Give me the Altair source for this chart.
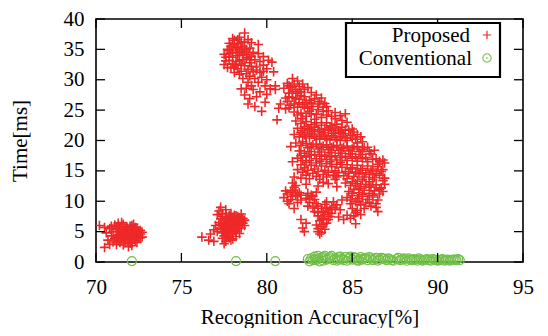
import altair as alt
import pandas as pd

# ---------------- data ----------------
cluster_a = [(70.2,6.0),(70.5,5.7),(70.8,5.5),(70.6,4.8),(70.9,4.3),(70.7,3.6),(70.5,2.4),(70.8,2.9),
             (71.0,3.3),(71.2,2.9),(71.1,3.8),(71.0,5.0),(71.2,5.8),(71.3,6.4),(71.4,5.3),(71.3,4.5),
             (71.5,3.9),(71.4,3.2),(71.6,2.8),(71.6,4.8),(71.7,5.6),(71.6,6.2),(71.8,4.3),(71.9,3.6),
             (71.9,2.5),(71.8,5.0),(72.0,5.9),(72.0,4.6),(72.0,3.1),(72.1,3.9),(72.1,5.3),(72.2,4.2),
             (72.3,4.9),(72.3,3.5),(72.4,5.6),(72.4,4.4),(72.5,3.9),(72.5,5.1),(72.6,4.6),(72.7,4.9),
             (72.7,4.1),(72.2,6.2),(71.5,6.5),(71.2,4.1),(71.7,3.2),(72.1,2.7),(71.3,3.5),(71.9,5.4),
             (72.4,3.2),(70.9,5.9),(71.1,6.1),
             (71.3,5.0),(71.5,4.5),(71.7,4.0),(71.9,4.9),(72.1,4.4),(72.3,5.3),(72.5,4.3),(71.4,5.7),
             (71.6,5.2),(71.8,4.7),(72.0,5.1),(72.2,4.7),(72.4,4.8),(72.6,5.2),(71.5,3.5),(71.7,3.7),
             (71.9,3.3),(72.1,3.5),(72.3,4.0),(72.5,4.5),(71.3,4.1),(71.6,4.3),(71.8,5.8),(72.0,4.2),
             (72.2,3.8),(72.6,4.0),(71.9,4.4),(71.2,5.4),(72.3,5.7),(72.1,6.0)]

cluster_b = [(76.2,4.1),(76.6,3.6),(76.7,4.6),(76.9,3.4),(76.9,5.3),(77.0,6.0),(77.1,7.8),(77.2,8.4),
             (77.3,9.0),(77.4,8.0),(77.3,7.1),(77.2,6.5),(77.3,5.6),(77.4,4.8),(77.4,3.9),(77.5,3.0),
             (77.5,6.3),(77.6,7.4),(77.6,8.6),(77.7,5.2),(77.7,4.2),(77.8,6.1),(77.8,7.0),(77.9,3.6),
             (77.9,5.5),(78.0,6.6),(78.0,4.6),(78.1,7.7),(78.1,5.9),(78.2,6.9),(78.2,5.0),(78.3,7.5),
             (78.3,6.2),(78.4,4.7),(78.4,6.8),(78.5,7.9),(78.5,5.6),(78.6,6.4),(78.6,7.2),(78.7,6.0),
             (78.7,6.9),(77.5,5.8),(77.9,8.0),(78.0,3.8),(77.6,3.4),(77.1,5.0),(78.2,4.2),
             (77.4,5.4),(77.6,6.0),(77.8,5.7),(78.0,6.1),(78.2,6.4),(78.4,6.1),(78.6,6.8),(77.5,6.8),
             (77.7,6.5),(77.9,6.8),(78.1,6.5),(78.3,6.8),(78.5,6.6),(77.3,6.2),(77.5,5.0),(77.7,4.7),
             (77.9,4.9),(78.1,5.2),(78.3,5.5),(77.4,7.5),(77.6,7.9),(77.8,7.6),(78.4,7.3),(77.6,4.5),
             (77.8,4.0),(77.5,4.3),(78.0,7.2),(78.2,7.6),(77.9,7.3)]

cluster_c = [(78.7,37.7),(78.4,37.0),(78.1,36.5),(77.8,36.0),(78.5,36.2),(78.9,36.6),(78.6,35.5),(78.2,35.3),
             (77.7,35.0),(77.5,34.2),(77.9,34.4),(78.3,34.0),(78.7,34.6),(79.0,35.2),(79.2,34.5),(79.1,33.8),
             (78.6,33.3),(78.2,33.0),(77.8,33.2),(77.5,32.5),(77.9,32.0),(78.3,31.8),(78.7,32.3),(79.0,32.8),
             (79.3,33.3),(79.6,33.0),(79.4,32.1),(79.8,32.4),(80.1,33.2),(80.3,32.9),(80.0,31.8),(79.6,31.2),
             (79.2,31.3),(78.8,31.0),(78.4,30.9),(78.1,31.2),(78.6,30.2),(78.9,29.6),(79.3,30.2),(79.7,30.4),
             (80.0,30.0),(80.4,31.3),(80.5,29.0),(80.2,28.5),(79.9,29.0),(80.0,27.6),(79.6,28.0),(79.2,28.4),
             (78.8,28.6),(78.5,28.5),(78.7,27.5),(79.0,26.9),(79.4,27.2),(78.9,26.0),(79.3,25.6),(79.7,24.8),
             (79.9,26.3),(80.5,28.4),(80.6,23.4),(80.7,25.3),(79.5,35.8),(79.1,36.1),(78.3,35.9),(77.6,33.7),
             (78.0,33.7),(79.5,34.3),(79.8,33.8),
             (77.9,35.5),(78.1,35.8),(78.3,35.3),(78.5,35.0),(78.8,35.0),(77.8,34.8),(78.0,34.9),(78.2,34.5),
             (78.4,34.5),(78.6,34.1),(78.9,34.2),(77.6,33.1),(77.8,33.8),(78.0,32.6),(78.2,32.4),(78.4,33.2),
             (78.5,32.6),(78.8,33.6),(77.7,32.0),(78.1,32.1),(78.9,31.7),(79.1,32.2),(78.5,31.4),(78.0,36.8),
             (78.3,36.6),(78.7,36.2),(79.0,33.3),(79.4,31.6),(79.0,30.6),(79.5,29.6),(79.1,29.0),(79.8,31.4)]

cluster_d_top = [(81.2,29.4),(81.5,30.2),(81.8,29.8),(82.1,29.3),(81.4,28.8),(81.0,28.6),(81.7,28.4),(82.0,28.0),
                 (82.4,28.7),(82.6,27.9),(81.3,27.8),(81.1,27.0),
                 (80.8,26.0),(81.2,26.4),(81.5,27.1),(81.9,26.8),(82.2,27.2),(82.5,26.6),(82.8,26.9),(83.1,26.4),
                 (83.4,26.1),(81.4,25.8),(81.8,25.5),(82.1,25.9),(82.4,25.3),(82.7,25.6),(83.0,25.1),(83.3,25.5),
                 (83.6,24.9),(81.1,25.2),(81.6,24.7),(82.0,24.5),(82.9,24.3),(82.3,24.0),(83.2,23.8),(83.5,24.2),
                 (84.0,24.6),(84.3,24.1),(84.6,24.4),(84.0,23.6),(84.4,23.3),(84.7,23.0),(83.8,24.0),
                 (81.3,29.0),(81.6,29.3),(81.9,28.9),(81.5,28.1),(81.8,27.8),(82.2,28.4),(81.3,27.2),(81.7,26.9),
                 (82.0,27.4),(82.3,26.3),(81.6,26.0),(81.9,26.2),(82.6,26.1),(81.3,25.4),(82.2,25.5),(82.5,24.8),
                 (81.8,24.2),(82.6,24.4),(82.1,23.6),(82.8,23.5),(83.3,24.8),(83.0,26.0),(83.2,27.0),(82.9,27.5),
                 (83.5,25.6)]

cluster_d_mid = [(81.7,23.2),(82.0,22.8),(82.3,23.1),(82.6,22.6),(82.9,22.9),(83.2,22.5),(83.5,22.9),(83.8,22.4),
                 (84.1,22.7),(84.4,22.2),(81.8,22.0),(82.1,21.6),(82.4,22.0),(82.7,21.5),(83.0,21.8),(83.3,21.3),
                 (83.6,21.7),(83.9,21.2),(84.2,21.6),(84.5,21.1),(84.8,21.7),(85.1,21.4),(81.6,21.0),(81.9,20.6),
                 (82.2,20.9),(82.5,20.4),(82.8,20.7),(83.1,20.2),(83.4,20.6),(83.7,20.1),(84.0,20.5),(84.3,20.0),
                 (84.6,20.4),(84.9,20.8),(85.2,20.2),(85.5,20.6),(85.0,21.9),(85.3,21.0),(85.6,19.8),
                 (81.7,19.6),(82.0,19.2),(82.3,19.5),(82.6,19.0),(82.9,19.4),(83.2,18.9),(83.5,19.3),(83.8,18.8),
                 (84.1,19.2),(84.4,18.7),(84.7,19.1),(85.0,18.6),(85.3,19.0),(85.6,18.5),(85.9,18.9),(81.9,18.3),
                 (82.2,17.9),(82.5,18.2),(82.8,17.7),(83.1,18.1),(83.4,17.6),(83.7,18.0),(84.0,17.5),(84.3,17.9),
                 (84.6,17.4),(84.9,17.8),(85.2,17.3),(85.5,17.7),(85.8,17.2),(86.1,17.8),(86.3,18.4),(86.4,17.0),
                 (81.8,17.1),(82.1,16.7),(81.4,19.0),(81.5,16.5),
                 (82.2,22.3),(82.5,21.8),(82.8,22.2),(83.1,21.5),(83.4,21.9),(83.7,22.1),(84.0,21.9),(84.3,21.3),
                 (84.6,21.8),(82.0,21.3),(82.3,20.7),(82.6,21.1),(82.9,20.4),(83.2,20.9),(83.5,20.3),(83.8,20.8),
                 (84.1,20.2),(84.4,20.7),(84.7,20.0),(85.0,20.4),(85.3,19.6),(82.1,19.8),(82.4,18.8),(82.7,19.3),
                 (83.0,18.6),(83.3,19.1),(83.6,18.5),(83.9,19.0),(84.2,18.4),(84.5,18.9),(84.8,18.3),(85.1,18.9),
                 (85.4,18.2),(85.7,18.8),(86.0,18.2),(82.0,17.5),(82.3,17.3),(82.6,17.6),(82.9,17.0),(83.2,17.4),
                 (83.5,16.9),(83.8,17.3),(84.1,16.8),(84.4,17.2),(84.7,16.7),(85.0,17.1),(85.3,16.6),(85.6,17.0),
                 (85.9,16.5),(86.2,16.9),(86.5,16.1),(86.8,16.8)]

cluster_d_low = [(82.0,16.0),(82.3,16.4),(82.6,15.9),(82.9,16.3),(83.2,15.8),(83.5,16.2),(83.8,15.7),(84.1,16.1),
                 (84.4,15.6),(84.7,16.0),(85.0,15.5),(85.3,15.9),(85.6,15.4),(85.9,15.8),(86.2,15.3),(86.5,15.7),
                 (86.8,15.2),(86.9,16.3),(86.6,16.6),(81.8,15.2),(82.1,14.8),(82.4,15.1),(82.7,14.6),(83.0,14.9),
                 (83.3,14.4),(83.6,14.8),(83.9,14.3),(84.2,14.7),(84.5,14.2),(84.8,14.6),(85.1,14.1),(85.4,14.5),
                 (85.7,14.0),(86.0,14.4),(86.3,13.9),(86.6,14.3),(86.9,13.8),(82.0,13.8),(82.5,13.7),(83.1,13.6),
                 (84.0,13.6),(85.3,13.3),(86.0,13.2),(81.6,14.0),(81.5,13.0),(81.7,12.6),
                 (82.3,12.8),(83.0,12.5),(83.6,12.9),(84.1,12.4),(83.3,13.1),
                 (84.6,13.0),(84.9,12.6),(85.2,12.9),(85.5,12.4),(85.8,12.8),(86.1,12.3),(86.4,12.7),(86.7,12.2),
                 (86.9,12.8),(84.8,11.6),(85.1,11.9),(85.4,11.4),(85.7,11.8),(86.0,11.3),(86.3,11.7),(86.6,11.2),
                 (86.8,11.6),(84.7,10.6),(85.0,10.9),(85.3,10.4),(85.6,10.8),(85.9,10.3),(86.2,10.7),(86.5,10.2),
                 (84.9,9.6),(85.2,9.9),(85.5,9.4),(85.8,9.7),(86.1,9.2),(86.4,9.0),(86.5,8.3),(85.0,8.8),
                 (85.3,8.5),(84.7,7.7),(85.1,7.6),(85.2,6.3),(84.5,7.0),(84.2,7.4),
                 (82.2,15.5),(82.5,16.7),(82.8,15.3),(83.1,16.6),(83.4,15.1),(83.7,16.5),(84.0,15.0),(84.3,16.4),
                 (84.6,14.9),(84.9,15.3),(85.2,14.8),(85.5,15.1),(85.8,14.7),(86.1,15.0),(86.4,14.6),(86.7,14.9),
                 (82.3,14.3),(82.9,14.1),(83.5,14.0),(84.1,14.0),(84.7,13.7),(85.6,13.6),(86.2,13.6),(86.8,13.4),
                 (85.0,13.2),(85.4,12.1),(86.0,12.5),(86.6,12.0),(85.0,11.3),(85.6,11.1),(86.2,11.0),(84.9,10.2),
                 (85.4,10.0),(86.0,9.8),(86.4,9.6),(85.7,8.8),(85.5,7.8),(84.9,7.2),(85.2,8.1)]

cluster_d_lobes = [(81.0,10.6),(81.2,11.2),(81.4,10.3),(81.5,11.8),(81.7,10.9),(81.8,9.8),(81.9,11.4),(81.6,12.3),
                   (81.3,9.6),(82.0,10.2),(81.6,8.8),
                   (82.3,10.5),(82.5,9.8),(82.6,11.0),(82.8,10.3),(82.9,11.5),(82.4,9.2),(82.7,8.9),
                   (82.8,8.3),(83.0,7.6),(83.2,8.8),(83.4,9.5),(83.6,8.1),(83.8,9.0),(83.9,9.9),(83.1,6.8),
                   (83.3,7.2),(83.5,6.4),(83.7,7.5),(83.2,5.8),(83.0,5.0),(83.1,4.6),(82.9,6.1),(83.4,5.4),
                   (82.0,7.0),(82.1,5.6),(82.3,6.4),(82.2,5.0),
                   (84.1,9.4),(84.4,10.2),(84.3,8.6),
                   (81.2,10.0),(81.5,10.8),(81.8,11.2),(81.1,11.7),(81.4,11.5),(82.0,11.0),
                   (83.0,8.1),(83.3,8.3),(83.5,8.8),(83.7,8.6),(83.4,7.8),(83.2,7.0),(83.6,7.0),(83.0,9.2),
                   (83.3,6.2),(83.0,5.5),(83.2,4.9),(83.5,9.9),(84.0,8.9),(83.8,8.0),
                   (82.5,10.3),(82.7,10.8),(82.4,11.3),(82.9,9.6)]

conventional = [(72.1,0.15),(78.2,0.15),(80.5,0.15),
                (82.5,0.1),(82.6,0.6),(82.8,0.9),(82.9,0.3),(83.0,1.0),(83.1,0.1),(83.2,0.7),(83.4,1.0),
                (83.5,0.4),(83.7,0.8),(83.8,1.0),(84.0,0.6),(84.1,0.2),(84.3,0.9),(84.4,0.5),(84.6,0.8),
                (84.7,0.2),(84.9,0.9),(85.0,0.4),(85.2,0.7),(85.3,0.2),(85.5,0.8),(85.6,0.4),(85.8,0.7),
                (85.9,0.3),(86.1,0.6),(86.2,0.3),(86.4,0.7),(86.6,0.4),(86.8,0.6),(87.0,0.3),(87.2,0.5),
                (87.4,0.2),(87.6,0.5),(87.8,0.3),(88.0,0.6),(88.2,0.2),(88.4,0.4),(88.6,0.5),(88.8,0.2),
                (89.0,0.4),(89.2,0.3),(89.4,0.5),(89.6,0.2),(89.8,0.4),(90.0,0.2),(90.2,0.4),(90.4,0.2),
                (90.6,0.4),(90.8,0.3),(91.0,0.4),(91.3,0.3),(84.2,0.4),(85.4,0.5),(86.5,0.2),(87.9,0.4),
                (89.1,0.2),(90.5,0.3),(83.3,0.2),(82.7,0.3),(86.9,0.5),(88.5,0.3),(89.9,0.3),
                (82.4,0.5),(82.8,0.4),(83.0,0.6),(83.3,0.8),(83.6,0.6),(83.9,0.3),(84.2,0.8),(84.5,0.3),
                (84.8,0.6),(85.1,0.8),(85.4,0.2),(85.7,0.6),(86.0,0.8),(86.3,0.5),(86.7,0.7),(87.1,0.6),
                (87.3,0.3),(87.7,0.7),(88.1,0.5),(88.3,0.6),(88.7,0.4),(88.9,0.6),(89.3,0.4),(89.5,0.3),
                (89.7,0.5),(90.1,0.3),(90.3,0.5),(90.7,0.2),(90.9,0.4),(91.1,0.3),(91.2,0.5)]

x_ticks = [70, 75, 80, 85, 90, 95]
y_ticks = [0, 5, 10, 15, 20, 25, 30, 35, 40]
legend_labels = ["Proposed", "Conventional"]

# ---------------- style ----------------
W, H = 427, 243
TOP = 11
RED = "#ee2828"
GREEN = "#72c048"
FONT = "Liberation Serif"
PLUS = "M-1,0L1,0M0,-1L0,1"
TICK = 9

proposed = cluster_a + cluster_b + cluster_c + cluster_d_top + cluster_d_mid + cluster_d_low + cluster_d_lobes
df_p = pd.DataFrame(proposed, columns=["acc", "time"])
df_c = pd.DataFrame(conventional, columns=["acc", "time"])
df_xt = pd.DataFrame({"acc": x_ticks})
df_yt = pd.DataFrame({"time": y_ticks})

x_enc = alt.X("acc:Q", scale=alt.Scale(domain=[70, 95], nice=False, zero=False),
              axis=alt.Axis(values=x_ticks, title="Recognition Accuracy[%]", labelFlush=False,
                            labelOverlap=False))
y_enc = alt.Y("time:Q", scale=alt.Scale(domain=[0, 40], nice=False, zero=False),
              axis=alt.Axis(values=y_ticks, title="Time[ms]", labelOverlap=False))

red = alt.Chart(df_p).mark_point(shape=PLUS, filled=False, color=RED, size=90,
                                 strokeWidth=1.6, opacity=1, clip=True).encode(x=x_enc, y=y_enc)
green = alt.Chart(df_c).mark_point(shape="circle", filled=False, color=GREEN, size=80,
                                   strokeWidth=1.2, opacity=1).encode(x=x_enc, y=y_enc)

tick_b = alt.Chart(df_xt).mark_rule(color="black", strokeWidth=1.3).encode(
    x=x_enc, y=alt.value(H), y2=alt.value(H - TICK))
tick_t = alt.Chart(df_xt).mark_rule(color="black", strokeWidth=1.3).encode(
    x=x_enc, y=alt.value(0), y2=alt.value(TICK))
tick_l = alt.Chart(df_yt).mark_rule(color="black", strokeWidth=1.3).encode(
    y=y_enc, x=alt.value(0), x2=alt.value(TICK))
tick_r = alt.Chart(df_yt).mark_rule(color="black", strokeWidth=1.3).encode(
    y=y_enc, x=alt.value(W), x2=alt.value(W - TICK))

# legend box (page coordinates of the reference converted to plot coordinates)
LY = 23 - (8 + TOP)
one = pd.DataFrame({"k": [0]})
box = alt.Chart(one).mark_rect(fill="white", stroke="black", strokeWidth=2.2).encode(
    x=alt.value(250), x2=alt.value(404), y=alt.value(LY), y2=alt.value(LY + 54))
lab1 = alt.Chart(pd.DataFrame({"label": [legend_labels[0]]})).mark_text(
    align="right", baseline="middle", font=FONT, fontSize=21, color="black").encode(
    text="label:N", x=alt.value(374), y=alt.value(LY + 13))
lab2 = alt.Chart(pd.DataFrame({"label": [legend_labels[1]]})).mark_text(
    align="right", baseline="middle", font=FONT, fontSize=21, color="black").encode(
    text="label:N", x=alt.value(376), y=alt.value(LY + 36))
sym1 = alt.Chart(one).mark_point(shape=PLUS, filled=False, color=RED, size=70,
                                 strokeWidth=1.2, opacity=1).encode(x=alt.value(391), y=alt.value(LY + 12))
sym2 = alt.Chart(one).mark_point(shape="circle", filled=False, color=GREEN, size=70,
                                 strokeWidth=1.1, opacity=1).encode(x=alt.value(391), y=alt.value(LY + 35))
sym2d = alt.Chart(one).mark_point(shape="circle", filled=True, color=GREEN, size=3,
                                  opacity=1).encode(x=alt.value(391), y=alt.value(LY + 35))

chart = alt.layer(red, green, tick_b, tick_t, tick_l, tick_r,
                  box, lab1, lab2, sym1, sym2, sym2d).properties(
    width=W, height=H,
    padding={"left": 88, "top": TOP, "right": 12, "bottom": 66},
    autosize=alt.AutoSizeParams(type="none"),
    background="white",
).configure_view(
    stroke="black", strokeWidth=1.6
).configure_axis(
    domain=False, ticks=False, grid=False,
    labelFont=FONT, labelFontSize=21, labelColor="black",
    titleFont=FONT, titleFontSize=21, titleFontWeight="normal", titleColor="black",
).configure_axisX(
    labelPadding=14, titlePadding=9
).configure_axisY(
    labelPadding=12, titlePadding=33
)

chart.save("out.html", embed_options={"renderer": "svg", "actions": False})
